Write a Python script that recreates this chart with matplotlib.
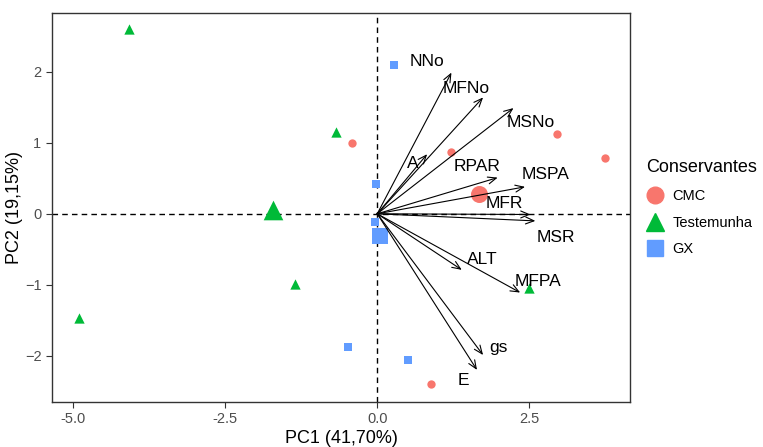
import matplotlib
matplotlib.use("Agg")
import matplotlib.pyplot as plt
from matplotlib.lines import Line2D
import numpy as np

plt.rcParams['font.family'] = ['Liberation Sans', 'DejaVu Sans']

# scores of the individuals, by group
groups = ["CMC", "Testemunha", "GX"]
cmc_pc1 = [-0.41, 2.96, 3.74, 1.22, 0.89]
cmc_pc2 = [1.00, 1.13, 0.79, 0.87, -2.40]
test_pc1 = [-4.09, -0.67, -1.35, -4.91, 2.49]
test_pc2 = [2.60, 1.15, -0.99, -1.47, -1.05]
gx_pc1 = [0.27, -0.02, -0.04, -0.48, 0.50]
gx_pc2 = [2.10, 0.42, -0.12, -1.88, -2.06]

# variable loadings (arrow tips)
variables = ["NNo", "MFNo", "MSNo", "A", "RPAR", "MSPA", "MFR", "MSR",
             "ALT", "MFPA", "gs", "E"]
var_pc1 = [1.22, 1.74, 2.24, 0.82, 1.98, 2.43, 2.52, 2.60, 1.39, 2.35, 1.74, 1.64]
var_pc2 = [1.99, 1.64, 1.49, 0.84, 0.51, 0.38, -0.01, -0.10, -0.79, -1.11, -1.99, -2.20]

# where the (repelled) labels ended up
label_pos = [(0.81, 2.15), (1.46, 1.77), (2.53, 1.29), (0.59, 0.71), (1.64, 0.67),
             (2.76, 0.55), (2.09, 0.15), (2.94, -0.33), (1.73, -0.64),
             (2.65, -0.95), (1.99, -1.88), (1.41, -2.35)]

colors = ["#F8766D", "#00BA38", "#619CFF"]
markers = ["o", "^", "s"]
small = [36, 55, 36]
big = [150, 200, 130]

fig = plt.figure(figsize=(7.63, 4.47), dpi=100)
ax = fig.add_axes([0.068, 0.101, 0.758, 0.870])

ax.axhline(0, color="black", ls="--", lw=1, dashes=(4, 3), zorder=1)
ax.axvline(0, color="black", ls="--", lw=1, dashes=(4, 3), zorder=1)

data = [(cmc_pc1, cmc_pc2), (test_pc1, test_pc2), (gx_pc1, gx_pc2)]
for (xs, ys), c, m, s1, s2 in zip(data, colors, markers, small, big):
    ax.scatter(xs, ys, s=s1, c=c, marker=m, linewidths=0, zorder=2)
    ax.scatter(np.mean(xs), np.mean(ys), s=s2, c=c, marker=m, linewidths=0, zorder=2)

for name, px, py, (lx, ly) in zip(variables, var_pc1, var_pc2, label_pos):
    ax.annotate("", xy=(px, py), xytext=(0, 0),
                arrowprops=dict(arrowstyle="->,head_length=0.6,head_width=0.25",
                                color="black", lw=0.8, shrinkA=0, shrinkB=0),
                zorder=3)
    ax.text(lx, ly, name, fontsize=12.5, ha="center", va="center",
            color="black", zorder=4)

ax.set_xlim(-5.35, 4.16)
ax.set_ylim(-2.65, 2.83)
ax.set_xticks([-5.0, -2.5, 0.0, 2.5])
ax.set_xticklabels(["-5.0", "-2.5", "0.0", "2.5"])
ax.set_yticks([-2, -1, 0, 1, 2])
ax.tick_params(labelsize=10.5, labelcolor="#4D4D4D", color="#333333",
               length=4, width=0.8)
for sp in ax.spines.values():
    sp.set_color("#333333")
    sp.set_linewidth(1)

ax.set_xlabel("PC1 (41,70%)", fontsize=13, labelpad=3)
ax.set_ylabel("PC2 (19,15%)", fontsize=13, labelpad=1)

handles = [Line2D([], [], ls="", marker="o", markersize=12, color=colors[0]),
           Line2D([], [], ls="", marker="^", markersize=13, color=colors[1]),
           Line2D([], [], ls="", marker="s", markersize=11, color=colors[2])]
leg = ax.legend(handles, groups, title="Conservantes", loc="center left",
                bbox_to_anchor=(1.018, 0.5), frameon=False, fontsize=10.5,
                title_fontsize=13, handletextpad=0.6, labelspacing=0.85,
                borderaxespad=0, handlelength=1.2)
leg._legend_box.align = "left"
leg._legend_box.sep = 10

fig.savefig("out.png", dpi=100)
